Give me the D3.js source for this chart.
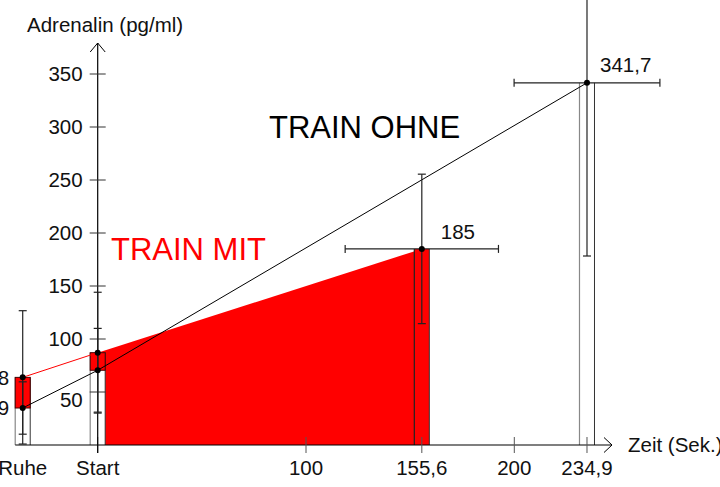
<!DOCTYPE html>
<html>
<head>
<meta charset="utf-8">
<script src="https://cdn.jsdelivr.net/npm/d3@7"></script>
<style>
  body { margin: 0; background: #fff; }
  svg { display: block; font-family: "Liberation Sans", Arial, sans-serif; }
</style>
</head>
<body>
<div id="chart"></div>
<script>
// data
var xTickValues = [-36, 0, 100, 155.6, 200, 234.9];
var xTickLabels = ["Ruhe", "Start", "100", "155,6", "200", "234,9"];
var yTickValues = [50, 100, 150, 200, 250, 300, 350];

// TRAIN MIT (red)
var mitTimes = [-36, 0, 155.6];
var mitMeans = [63.8, 87.1, 185];
var mitSD = [62.9, 57, 70.5];
var mitTimeSD = [0, 0, 36.8];

// TRAIN OHNE (black)
var ohneTimes = [-36, 0, 234.9];
var ohneMeans = [34.9, 70.5, 341.7];
var ohneSD = [24.7, 39.5, 163.4];
var ohneTimeSD = [0, 0, 35];

var w = 720, h = 487;
var barHalf = 7.5;
var capHalf = 4;
var fontSize = "20.5px";

var svg = d3.select("#chart").append("svg")
  .attr("width", w).attr("height", h);

var x = d3.scaleLinear().domain([0, 100]).range([97.7, 306]);
var y = d3.scaleLinear().domain([0, 350]).range([445, 74]);

//red area under TRAIN MIT from Start to end
var areaData = [0, 1].map(function(k) {
  var i = k + 1;
  return { t: mitTimes[i], v: mitMeans[i] };
});
svg.append("path")
  .datum(areaData)
  .attr("fill", "#ff0000")
  .attr("d", d3.area()
    .x(function(d) { return x(d.t); })
    .y0(y(0))
    .y1(function(d) { return y(d.v); }));

//bars (column up to the higher value)
var bars = [
  { t: mitTimes[0], top: Math.max(mitMeans[0], ohneMeans[0]), fill: "#fff" },
  { t: mitTimes[1], top: Math.max(mitMeans[1], ohneMeans[1]), fill: "#fff" },
  { t: mitTimes[2], top: mitMeans[2], fill: "#ff0000" },
  { t: ohneTimes[2], top: ohneMeans[2], fill: "#fff" }
];
var barG = svg.append("g");
bars.forEach(function(b) {
  var cx = x(b.t);
  barG.append("rect")
    .attr("x", cx - barHalf).attr("y", y(b.top))
    .attr("width", barHalf * 2).attr("height", y(0) - y(b.top))
    .attr("fill", b.fill);
  barG.append("line")
    .attr("x1", cx - barHalf).attr("x2", cx - barHalf)
    .attr("y1", y(b.top)).attr("y2", y(0))
    .attr("stroke", b.fill == "#fff" ? "#888" : "#222").attr("stroke-width", 1.2);
  barG.append("line")
    .attr("x1", cx + barHalf).attr("x2", cx + barHalf)
    .attr("y1", y(b.top)).attr("y2", y(0))
    .attr("stroke", "#333").attr("stroke-width", 1);
});

//red difference boxes at Ruhe and Start
[0, 1].forEach(function(i) {
  var cx = x(mitTimes[i]);
  svg.append("rect")
    .attr("x", cx - barHalf).attr("y", y(mitMeans[i]))
    .attr("width", barHalf * 2)
    .attr("height", y(ohneMeans[i]) - y(mitMeans[i]))
    .attr("fill", "#ff0000")
    .attr("stroke", "#400").attr("stroke-width", 1);
});

//x axis
var xAxisG = svg.append("g");
xAxisG.append("line")
  .attr("x1", x(-36) - barHalf).attr("x2", 612)
  .attr("y1", y(0)).attr("y2", y(0))
  .attr("stroke", "#000").attr("stroke-width", 1.2);
xAxisG.append("path")
  .attr("d", "M604," + (y(0) - 7.5) + "L612," + y(0) + "L604," + (y(0) + 7.5))
  .attr("fill", "none").attr("stroke", "#000");
xAxisG.selectAll(".xtick")
  .data(xTickValues.slice(1))
  .enter().append("line")
  .attr("x1", function(d) { return x(d); })
  .attr("x2", function(d) { return x(d); })
  .attr("y1", y(0) - 8).attr("y2", y(0) + 8)
  .attr("stroke", "#555");
xAxisG.selectAll(".xlabel")
  .data(xTickValues)
  .enter().append("text")
  .attr("x", function(d) { return x(d); })
  .attr("y", 475)
  .attr("text-anchor", "middle")
  .attr("font-size", fontSize)
  .attr("fill", "#111")
  .text(function(d, i) { return xTickLabels[i]; });
xAxisG.append("text")
  .attr("x", 628).attr("y", 452)
  .attr("font-size", fontSize).attr("fill", "#111")
  .text("Zeit (Sek.)");

//y axis
var yAxisG = svg.append("g");
yAxisG.append("line")
  .attr("x1", x(0)).attr("x2", x(0))
  .attr("y1", y(0) + 8).attr("y2", 43)
  .attr("stroke", "#000").attr("stroke-width", 1.2);
yAxisG.append("path")
  .attr("d", "M" + (x(0) - 7.5) + ",52L" + x(0) + ",43L" + (x(0) + 7.5) + ",52")
  .attr("fill", "none").attr("stroke", "#000");
yAxisG.selectAll(".ytick")
  .data(yTickValues)
  .enter().append("line")
  .attr("x1", x(0) - 8).attr("x2", x(0) + 8)
  .attr("y1", function(d) { return y(d); })
  .attr("y2", function(d) { return y(d); })
  .attr("stroke", "#333");
yAxisG.selectAll(".ylabel")
  .data(yTickValues)
  .enter().append("text")
  .attr("x", x(0) - 15)
  .attr("y", function(d) { return y(d) + (d == 50 ? 8 : 0); })
  .attr("dy", "0.35em")
  .attr("text-anchor", "end")
  .attr("font-size", fontSize)
  .attr("fill", "#111")
  .text(function(d) { return d; });
yAxisG.append("text")
  .attr("x", 27).attr("y", 32)
  .attr("font-size", fontSize).attr("fill", "#111")
  .text("Adrenalin (pg/ml)");

//lines
svg.append("line")
  .attr("x1", x(mitTimes[0])).attr("y1", y(mitMeans[0]))
  .attr("x2", x(mitTimes[1])).attr("y2", y(mitMeans[1]))
  .attr("stroke", "#ff0000").attr("stroke-width", 1);
svg.append("path")
  .datum(ohneTimes.map(function(t, i) { return [x(t), y(ohneMeans[i])]; }))
  .attr("fill", "none").attr("stroke", "#000").attr("stroke-width", 1)
  .attr("d", d3.line());

//error bars
var errG = svg.append("g").attr("stroke", "#222").attr("stroke-width", 1.2);
function errorBars(times, means, sd, tsd) {
  times.forEach(function(t, i) {
    var cx = x(t), cy = y(means[i]);
    var y1 = y(means[i] + sd[i]), y2 = y(means[i] - sd[i]);
    errG.append("line").attr("x1", cx).attr("x2", cx).attr("y1", y1).attr("y2", y2);
    errG.append("line").attr("x1", cx - capHalf).attr("x2", cx + capHalf).attr("y1", y1).attr("y2", y1);
    errG.append("line").attr("x1", cx - capHalf).attr("x2", cx + capHalf).attr("y1", y2).attr("y2", y2);
    if (tsd[i] > 0) {
      var x1 = x(t - tsd[i]), x2 = x(t + tsd[i]);
      errG.append("line").attr("x1", x1).attr("x2", x2).attr("y1", cy).attr("y2", cy);
      errG.append("line").attr("x1", x1).attr("x2", x1).attr("y1", cy - capHalf).attr("y2", cy + capHalf);
      errG.append("line").attr("x1", x2).attr("x2", x2).attr("y1", cy - capHalf).attr("y2", cy + capHalf);
    }
  });
}
errorBars(mitTimes, mitMeans, mitSD, mitTimeSD);
errorBars(ohneTimes, ohneMeans, ohneSD, ohneTimeSD);

//points
var pts = mitTimes.map(function(t, i) { return [t, mitMeans[i]]; })
  .concat(ohneTimes.map(function(t, i) { return [t, ohneMeans[i]]; }));
svg.selectAll(".pt")
  .data(pts)
  .enter().append("circle")
  .attr("cx", function(d) { return x(d[0]); })
  .attr("cy", function(d) { return y(d[1]); })
  .attr("r", 3)
  .attr("fill", "#000");

//value labels (the Ruhe ones run off the left edge, as in the original)
var fmt = function(v) { return String(v).replace(".", ","); };
svg.append("text")
  .attr("x", x(mitTimes[0]) - barHalf - 6).attr("y", y(mitMeans[0])).attr("dy", "0.35em")
  .attr("text-anchor", "end").attr("font-size", fontSize).attr("fill", "#111")
  .text(fmt(mitMeans[0]));
svg.append("text")
  .attr("x", x(ohneTimes[0]) - barHalf - 6).attr("y", y(ohneMeans[0])).attr("dy", "0.35em")
  .attr("text-anchor", "end").attr("font-size", fontSize).attr("fill", "#111")
  .text(fmt(ohneMeans[0]));
svg.append("text")
  .attr("x", x(mitTimes[2]) + 19).attr("y", y(mitMeans[2]) - 10)
  .attr("font-size", fontSize).attr("fill", "#111")
  .text(fmt(mitMeans[2]));
svg.append("text")
  .attr("x", x(ohneTimes[2]) + 13).attr("y", y(ohneMeans[2]) - 11)
  .attr("font-size", fontSize).attr("fill", "#111")
  .text(fmt(ohneMeans[2]));

//series titles
svg.append("text")
  .attr("x", 269).attr("y", 138)
  .attr("font-size", "31px").attr("fill", "#000")
  .text("TRAIN OHNE");
svg.append("text")
  .attr("x", 111).attr("y", 260)
  .attr("font-size", "31px").attr("fill", "#ff0000")
  .text("TRAIN MIT");
</script>
</body>
</html>
